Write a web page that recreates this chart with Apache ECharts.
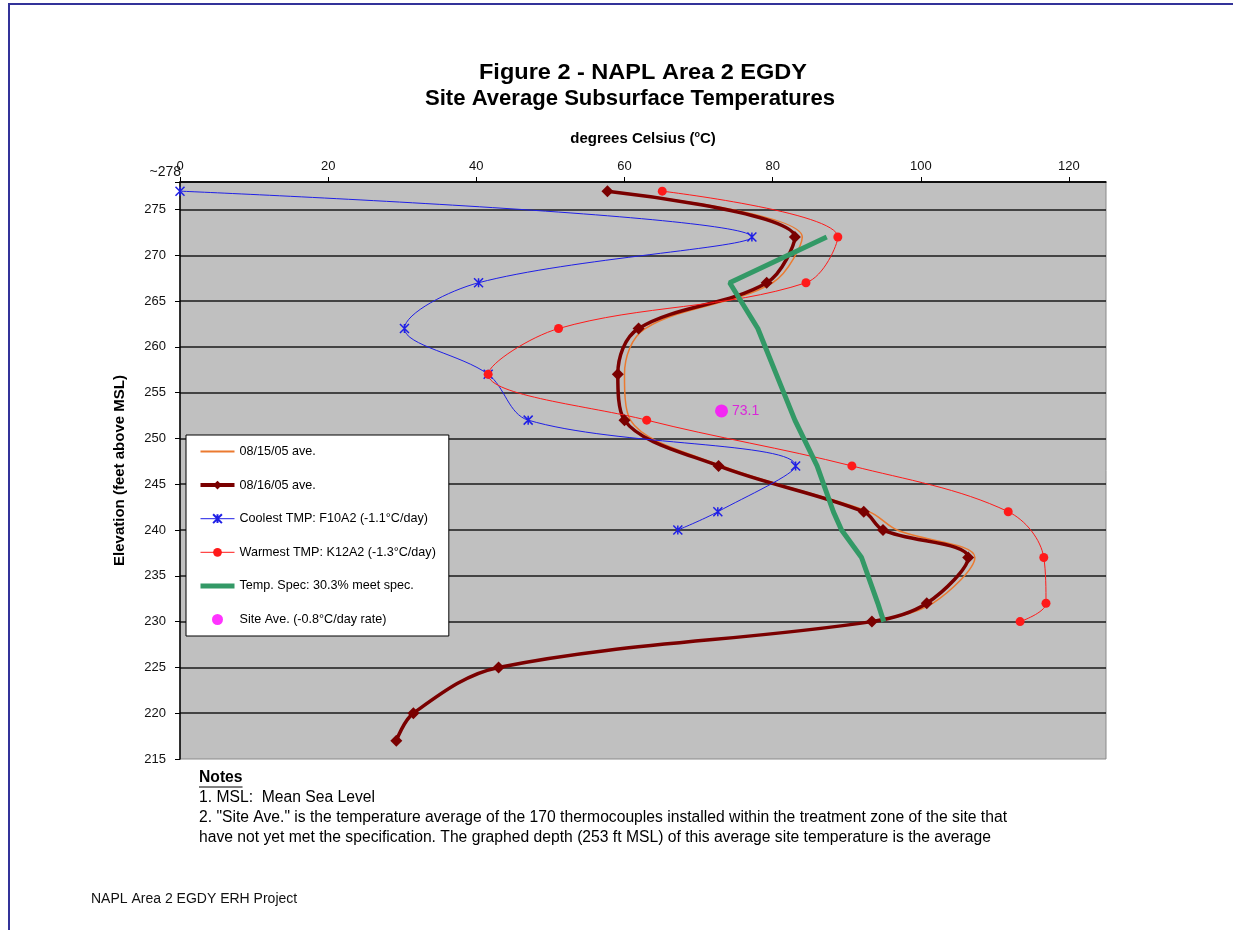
<!DOCTYPE html>
<html>
<head>
<meta charset="utf-8">
<title>Site Average Subsurface Temperatures</title>
<script src="https://cdn.jsdelivr.net/npm/echarts@6/dist/echarts.min.js"></script>
<style>
  html, body { margin: 0; padding: 0; background: #fff; }
  #chart { width: 1233px; height: 930px; }
</style>
</head>
<body>
<div id="chart"></div>
<script>
// Elevations (ft above MSL) of the thermocouple depths
const elevAve16 = [277, 272, 267, 262, 257, 252, 247, 242, 240, 237, 232, 230, 225, 220, 217];
const tempAve16 = [57.7, 83.0, 79.2, 61.9, 59.1, 60.0, 72.7, 92.3, 94.9, 106.4, 100.8, 93.4, 43.0, 31.5, 29.2];

const elevAve15 = [277, 272, 267, 262, 257, 252, 247, 242, 240, 237, 232, 230];
const tempAve15 = [58.0, 84.0, 80.0, 62.8, 60.0, 60.8, 73.2, 93.0, 96.8, 107.3, 101.6, 94.0];

const elevCoolest = [277, 272, 267, 262, 257, 252, 247, 242, 240];
const tempCoolest = [0.0, 77.2, 40.3, 30.3, 41.6, 47.0, 83.1, 72.6, 67.2];

const elevWarmest = [277, 272, 267, 262, 257, 252, 247, 242, 237, 232, 230];
const tempWarmest = [65.1, 88.8, 84.5, 51.1, 41.6, 63.0, 90.7, 111.8, 116.6, 116.9, 113.4];

const elevSpec = [272, 267, 262, 257, 252, 247, 242, 240, 237, 232, 230];
const tempSpec = [87.3, 74.2, 78.0, 80.5, 83.0, 86.0, 88.2, 89.3, 92.0, 94.2, 95.0];

const siteAve = [73.1, 253];

const seriesNames = [
  '08/15/05 ave.',
  '08/16/05 ave.',
  'Coolest TMP: F10A2 (-1.1°C/day)',
  'Warmest TMP: K12A2 (-1.3°C/day)',
  'Temp. Spec: 30.3% meet spec.',
  'Site Ave. (-0.8°C/day rate)'
];

const xTickValues = [0, 20, 40, 60, 80, 100, 120];
const yTopLabel = '~278';

const titleLines = ['Figure 2 - NAPL Area 2 EGDY', 'Site Average Subsurface Temperatures'];
const noteHeading = 'Notes';
const noteLines = [
  '1. MSL:  Mean Sea Level',
  '2. "Site Ave." is the temperature average of the 170 thermocouples installed within the treatment zone of the site that',
  'have not yet met the specification. The graphed depth (253 ft MSL) of this average site temperature is the average'
];
const footerText = 'NAPL Area 2 EGDY ERH Project';

const pair = (xs, ys) => xs.map((x, i) => [x, ys[i]]);
const FONT = '"Liberation Sans", Arial, sans-serif';

const COLORS = {
  ave15: '#EB7A30',
  ave16: '#7A0000',
  coolest: '#1F1FE6',
  warmest: '#FF1A1A',
  spec: '#339966',
  site: '#FF00FF'
};

// text measuring, used to condense the notes block
const measureCtx = document.createElement('canvas').getContext('2d');
function textWidth(text, font) {
  measureCtx.font = font;
  return measureCtx.measureText(text).width;
}

const chart = echarts.init(document.getElementById('chart'), null, { renderer: 'canvas' });

const option = {
  animation: false,
  backgroundColor: '#ffffff',
  textStyle: { fontFamily: FONT },
  grid: {
    left: 180, right: 127, top: 182, bottom: 171,
    show: true, backgroundColor: '#C0C0C0', borderColor: '#8a8a8a', borderWidth: 1
  },
  xAxis: {
    type: 'value', position: 'top', min: 0, max: 125, interval: 20,
    name: 'degrees Celsius ({sup|o}C)',
    nameLocation: 'middle', nameGap: 35,
    nameTextStyle: {
      fontFamily: FONT, fontWeight: 'bold', fontSize: 15, color: '#000',
      rich: { sup: { fontFamily: FONT, fontWeight: 'bold', fontSize: 9, color: '#000', padding: [0, 0, 8, 0] } }
    },
    axisLine: { show: true, onZero: false, lineStyle: { color: '#000', width: 1.5 } },
    axisTick: { show: true, length: 5, customValues: xTickValues, lineStyle: { color: '#000', width: 1 } },
    axisLabel: {
      fontFamily: FONT, fontSize: 13, color: '#111', margin: 9,
      customValues: xTickValues,
      formatter: v => (xTickValues.indexOf(v) >= 0 ? String(v) : '')
    },
    splitLine: { show: false }
  },
  yAxis: {
    type: 'value', min: 215, max: 278, interval: 5,
    name: 'Elevation (feet above MSL)',
    nameLocation: 'middle', nameGap: 53,
    nameTextStyle: { fontFamily: FONT, fontWeight: 'bold', fontSize: 15, color: '#000' },
    axisLine: { show: true, onZero: false, lineStyle: { color: '#000', width: 1.5 } },
    axisTick: { show: true, length: 5, lineStyle: { color: '#000', width: 1 } },
    axisLabel: {
      fontFamily: FONT, fontSize: 13, color: '#111', margin: 14,
      formatter: v => (v % 5 === 0 ? String(v) : '')
    },
    splitLine: { show: true, showMinLine: false, lineStyle: { color: '#1a1a1a', width: 1.5 } }
  },
  legend: {
    orient: 'vertical', left: 186, top: 435,
    padding: [10, 13, 10, 12], itemGap: 20.6, itemWidth: 34, itemHeight: 11,
    backgroundColor: '#ffffff', borderColor: '#000', borderWidth: 1,
    textStyle: { fontFamily: FONT, fontSize: 12.6, color: '#000' },
    data: [
      { name: seriesNames[0], itemStyle: { color: 'rgba(0,0,0,0)', borderWidth: 0 }, lineStyle: { width: 2, color: COLORS.ave15 } },
      { name: seriesNames[1], lineStyle: { width: 4, color: COLORS.ave16 } },
      { name: seriesNames[2], lineStyle: { width: 1, color: COLORS.coolest } },
      { name: seriesNames[3], lineStyle: { width: 1, color: COLORS.warmest } },
      { name: seriesNames[4], itemStyle: { color: 'rgba(0,0,0,0)', borderWidth: 0 }, lineStyle: { width: 5, color: COLORS.spec } },
      { name: seriesNames[5], icon: 'circle', itemStyle: { color: COLORS.site } }
    ]
  },
  series: [
    {
      name: seriesNames[0], type: 'line', smooth: 0.35, clip: false,
      data: pair(tempAve15, elevAve15), symbol: 'none',
      lineStyle: { color: COLORS.ave15, width: 1.5 }, itemStyle: { color: COLORS.ave15 }
    },
    {
      name: seriesNames[1], type: 'line', smooth: 0.35, clip: false,
      data: pair(tempAve16, elevAve16), symbol: 'diamond', symbolSize: 12,
      lineStyle: { color: COLORS.ave16, width: 3.5 }, itemStyle: { color: COLORS.ave16 }
    },
    {
      name: seriesNames[2], type: 'line', smooth: 0.35, clip: false,
      data: pair(tempCoolest, elevCoolest),
      symbol: 'path://M0,0L10,10M10,0L0,10M5,0L5,10', symbolSize: 9,
      lineStyle: { color: COLORS.coolest, width: 1 },
      itemStyle: { color: COLORS.coolest, borderColor: COLORS.coolest, borderWidth: 1.5 }
    },
    {
      name: seriesNames[3], type: 'line', smooth: 0.35, clip: false,
      data: pair(tempWarmest, elevWarmest), symbol: 'circle', symbolSize: 9,
      lineStyle: { color: COLORS.warmest, width: 1 }, itemStyle: { color: COLORS.warmest }
    },
    {
      name: seriesNames[4], type: 'line', smooth: false, clip: false,
      data: pair(tempSpec, elevSpec), symbol: 'none',
      lineStyle: { color: COLORS.spec, width: 5 }, itemStyle: { color: COLORS.spec }
    },
    {
      name: seriesNames[5], type: 'scatter', clip: false,
      data: [siteAve], symbol: 'circle', symbolSize: 13,
      itemStyle: { color: COLORS.site },
      label: {
        show: true, position: 'right', distance: 4,
        fontFamily: FONT, fontSize: 14, color: '#E000E0',
        formatter: p => p.value[0].toFixed(1)
      }
    }
  ]
};

chart.setOption(option);

// Page furniture: frame, title, notes and footer
const topPx = chart.convertToPixel({ xAxisIndex: 0, yAxisIndex: 0 }, [0, 278]);
const NOTE_FONT = '16px ' + FONT;
const NOTE_HEAD_FONT = 'bold 16px ' + FONT;
const TITLE_FONT = 'bold 22px ' + FONT;

// one horizontal squeeze for the whole notes block, set by its longest line
const noteScale = 808 / textWidth(noteLines[1], NOTE_FONT);

function scaledText(text, font, x, y, scale, align) {
  return {
    type: 'text', x: x, y: y, scaleX: scale,
    style: { text: text, font: font, fill: '#000', textAlign: align, textVerticalAlign: 'middle' }
  };
}

const headWidth = textWidth(noteHeading, NOTE_HEAD_FONT) * noteScale;

const graphics = [
  { type: 'line', shape: { x1: 8, y1: 4, x2: 1233, y2: 4 }, style: { stroke: '#333399', lineWidth: 2 } },
  { type: 'line', shape: { x1: 9, y1: 3, x2: 9, y2: 930 }, style: { stroke: '#333399', lineWidth: 2 } },
  scaledText(titleLines[0], TITLE_FONT, 643, 73, 328 / textWidth(titleLines[0], TITLE_FONT), 'center'),
  scaledText(titleLines[1], TITLE_FONT, 630, 99, 410 / textWidth(titleLines[1], TITLE_FONT), 'center'),
  {
    type: 'text', x: topPx[0] + 1, y: topPx[1] - 10,
    style: { text: yTopLabel, font: '14px ' + FONT, fill: '#111', textAlign: 'right', textVerticalAlign: 'middle' }
  },
  scaledText(noteHeading, NOTE_HEAD_FONT, 199, 778, noteScale, 'left'),
  { type: 'line', shape: { x1: 199, y1: 787, x2: 199 + headWidth, y2: 787 }, style: { stroke: '#000', lineWidth: 1 } },
  scaledText(noteLines[0], NOTE_FONT, 199, 798, noteScale, 'left'),
  scaledText(noteLines[1], NOTE_FONT, 199, 818, noteScale, 'left'),
  scaledText(noteLines[2], NOTE_FONT, 199, 838, noteScale, 'left'),
  {
    type: 'text', x: 91, y: 899,
    style: { text: footerText, font: '14px ' + FONT, fill: '#111', textAlign: 'left', textVerticalAlign: 'middle' }
  }
];
chart.setOption({ graphic: graphics });
</script>
</body>
</html>
